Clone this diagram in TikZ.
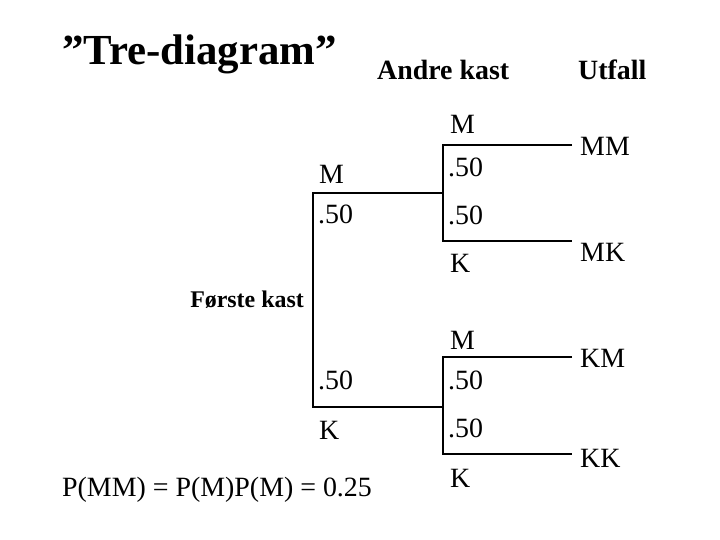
\documentclass[tikz,border=0pt]{standalone}
\usepackage{fontspec}
\setmainfont{Liberation Serif}
\begin{document}
\begin{tikzpicture}[x=1bp,y=-1bp,
  branch/.style={line width=2.4bp, line join=miter},
  lbl/.style={inner sep=0pt, anchor=west, font=\fontsize{28}{32}\selectfont},
  outc/.style={inner sep=0pt, anchor=west, font=\fontsize{28}{32}\selectfont},
  head/.style={inner sep=0pt, anchor=west, font=\fontsize{28}{32}\selectfont\bfseries}]
\useasboundingbox (0,0) rectangle (720,540);
% title and headers
\node[inner sep=0pt, anchor=base west, font=\fontsize{43}{48}\selectfont\bfseries] (title) at (62,65) {”Tre-diagram”};
\node[head] (andre) at (377,70) {Andre kast};
\node[head] (utfall) at (578,70) {Utfall};
\node[inner sep=0pt, anchor=east, font=\fontsize{24}{28}\selectfont\bfseries] (forste) at (304,300) {Første kast};
% tree junction coordinates
\coordinate (ru) at (313,193);
\coordinate (rl) at (313,407);
\coordinate (u) at (443,193);
\coordinate (l) at (443,407);
\coordinate (uu) at (443,145);
\coordinate (ul) at (443,241);
\coordinate (lu) at (443,357);
\coordinate (ll) at (443,454);
\coordinate (uue) at (572,145);
\coordinate (ule) at (572,241);
\coordinate (lue) at (572,357);
\coordinate (lle) at (572,454);
% branches
\draw[branch] (u) -- (ru) -- (rl) -- (l);
\draw[branch] (uue) -- (uu) -- (ul) -- (ule);
\draw[branch] (lue) -- (lu) -- (ll) -- (lle);
% first-level labels
\node[lbl] (m1) at (319,174) {M};
\node[lbl] (p1) at (318,214) {.50};
\node[lbl] (p2) at (318,380) {.50};
\node[lbl] (k1) at (319,430) {K};
% second-level labels (upper)
\node[lbl] (m2) at (450,124) {M};
\node[lbl] (p3) at (448,167) {.50};
\node[lbl] (p4) at (448,215) {.50};
\node[lbl] (k2) at (450,263) {K};
% second-level labels (lower)
\node[lbl] (m3) at (450,340) {M};
\node[lbl] (p5) at (448,380) {.50};
\node[lbl] (p6) at (448,428) {.50};
\node[lbl] (k3) at (450,478) {K};
% outcomes
\node[outc] (mm) at (580,146) {MM};
\node[outc] (mk) at (580,252) {MK};
\node[outc] (km) at (580,358) {KM};
\node[outc] (kk) at (580,458) {KK};
% formula
\node[inner sep=0pt, anchor=base west, font=\fontsize{28}{32}\selectfont] (formula) at (62,496) {P(MM) = P(M)P(M) = 0.25};
\end{tikzpicture}
\end{document}
